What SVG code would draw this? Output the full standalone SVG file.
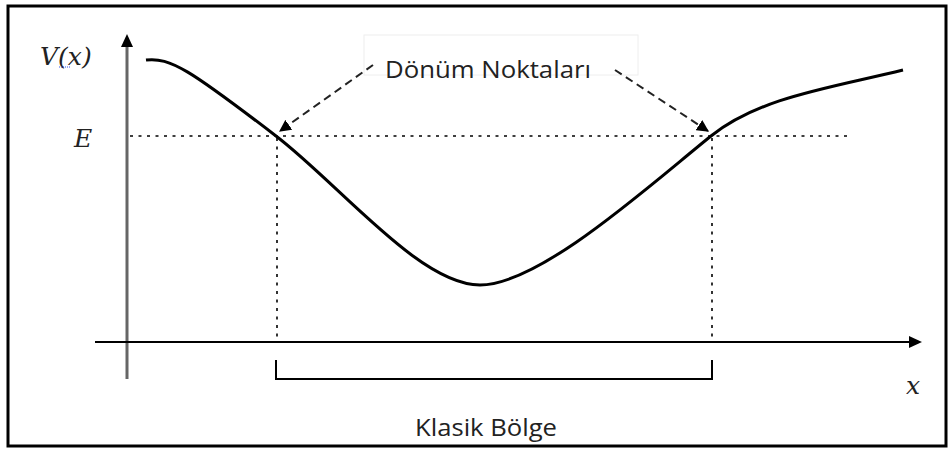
<svg xmlns="http://www.w3.org/2000/svg" width="949" height="450" viewBox="0 0 949 450">
<defs>
<style>
.dot{stroke:#000;stroke-width:1.6;stroke-dasharray:3 5.5;fill:none}
.dash{stroke:#222;stroke-width:2;stroke-dasharray:8 5;fill:none}
.lbl{font-family:"Open Sans","Noto Sans",sans-serif;fill:#222}
.math{font-family:"DejaVu Serif","Liberation Serif",serif;font-style:italic;fill:#222}
</style>
<marker id="ah" viewBox="0 0 10 10" refX="9" refY="5" markerWidth="12" markerHeight="12" markerUnits="userSpaceOnUse" orient="auto">
<path d="M0,0 L10,5 L0,10 z" fill="#000"/>
</marker>
</defs>
<rect x="0" y="0" width="949" height="450" fill="#fff"/>
<rect x="8" y="6" width="938" height="440" fill="none" stroke="#000" stroke-width="3"/>
<g id="axes">
<line x1="127" y1="379" x2="127" y2="46" stroke="#666" stroke-width="3"/>
<path d="M127,34 L121,47 L133,47 z" fill="#000"/>
<line x1="95" y1="342" x2="910" y2="342" stroke="#000" stroke-width="2"/>
<path d="M922,342 L909,336 L909,348 z" fill="#000"/>
</g>
<g id="guides">
<line class="dot" x1="130" y1="136" x2="848" y2="136"/>
<line class="dot" x1="277" y1="138" x2="277" y2="341"/>
<line class="dot" x1="712" y1="138" x2="712" y2="341"/>
</g>
<g id="curve">
<path d="M146,60 C170,57 190,70 276,136 C340,185 420,285 480,285 C540,285 650,185 711,136 C760,97 830,88 903,70" fill="none" stroke="#000" stroke-width="3"/>
</g>
<g id="bracket">
<path d="M276,360 L276,379 L712,379 L712,360" fill="none" stroke="#000" stroke-width="2"/>
</g>
<g id="turning-label">
<rect x="364" y="35" width="274" height="40" fill="none" stroke="#eee" stroke-width="1"/>
<text class="lbl" x="385" y="78" font-size="23" textLength="206" lengthAdjust="spacingAndGlyphs">Dönüm Noktaları</text>
</g>
<g id="connectors">
<line class="dash" x1="373" y1="65" x2="280" y2="131" marker-end="url(#ah)"/>
<line class="dash" x1="615" y1="70" x2="708" y2="131" marker-end="url(#ah)"/>
</g>
<g id="labels">
<text class="math" x="40" y="65" font-size="25">V(x)</text>
<line x1="59" y1="67" x2="70" y2="67" stroke="#3355ee" stroke-width="1" stroke-dasharray="1 1"/>
<text class="math" x="74" y="147" font-size="25">E</text>
<text class="math" x="906" y="394" font-size="25">x</text>
<text class="lbl" x="415" y="436" font-size="23" textLength="142" lengthAdjust="spacingAndGlyphs">Klasik Bölge</text>
</g>
</svg>
